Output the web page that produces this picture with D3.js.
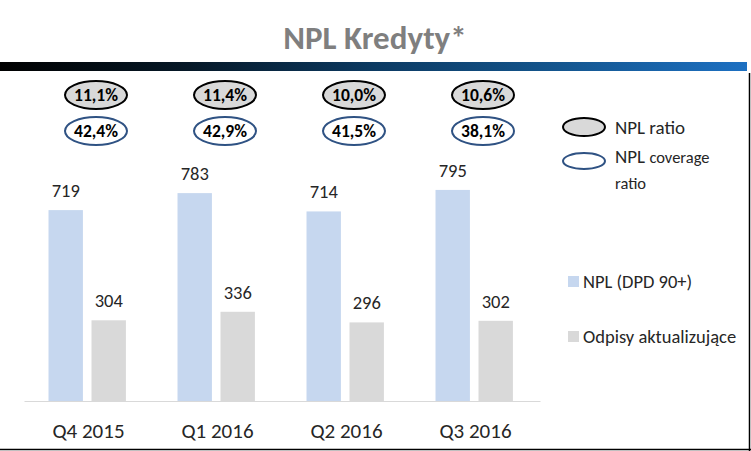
<!DOCTYPE html>
<html>
<head>
<meta charset="utf-8">
<script src="https://cdn.jsdelivr.net/npm/d3@7"></script>
<style>
  html, body { margin: 0; padding: 0; background: #fff; }
  svg { display: block; }
  text { font-family: Carlito, Calibri, "Liberation Sans Narrow", "Open Sans", sans-serif; }
</style>
</head>
<body>
<div id="chart"></div>
<script>
'use strict';

var quarters = ['Q4 2015', 'Q1 2016', 'Q2 2016', 'Q3 2016'];
var nplValues = [719, 783, 714, 795];
var provisionValues = [304, 336, 296, 302];
var nplRatio = ['11,1%', '11,4%', '10,0%', '10,6%'];
var coverageRatio = ['42,4%', '42,9%', '41,5%', '38,1%'];

var seriesNames = ['NPL (DPD 90+)', 'Odpisy aktualizujące'];
var seriesColors = ['#c6d7ef', '#d9d9d9'];

var width = 751, height = 451;
var svg = d3.select('#chart').append('svg')
  .attr('width', width)
  .attr('height', height);

// title + gradient band
svg.append('text')
  .attr('x', 375).attr('y', 49)
  .attr('text-anchor', 'middle')
  .attr('font-size', 33).attr('font-weight', 'bold')
  .attr('fill', '#7f7f7f')
  .text('NPL Kredyty*');

var grad = svg.append('defs').append('linearGradient')
  .attr('id', 'band').attr('x1', '0%').attr('x2', '100%');
[['0%', '#000000'], ['25%', '#061827'], ['50%', '#0c3a62'], ['75%', '#14568f'], ['100%', '#1d70c2']]
  .forEach(function (s) { grad.append('stop').attr('offset', s[0]).attr('stop-color', s[1]); });
svg.append('rect').attr('x', 0).attr('y', 62).attr('width', 747).attr('height', 9)
  .attr('fill', 'url(#band)');

// frame lines (right + bottom)
svg.append('line').attr('x1', 749.5).attr('x2', 749.5).attr('y1', 73).attr('y2', 451)
  .attr('stroke', '#000').attr('stroke-width', 1.5);
svg.append('line').attr('x1', 0).attr('x2', 751).attr('y1', 449.5).attr('y2', 449.5)
  .attr('stroke', '#000').attr('stroke-width', 1.5);

// scales
var x0 = d3.scaleBand().domain(quarters).range([24, 540]).paddingInner(0).paddingOuter(0);
var x1 = d3.scaleBand().domain([0, 1]).range([x0.bandwidth() * 0.19, x0.bandwidth() * 0.79]).paddingInner(0.2);
var y = d3.scaleLinear().domain([0, 900]).range([401, 401 - 0.2655 * 900]);

var g = svg.append('g');
var groups = g.selectAll('g.q')
  .data(quarters.map(function (q, i) { return { q: q, vals: [nplValues[i], provisionValues[i]] }; }))
  .join('g')
  .attr('class', 'q')
  .attr('transform', function (d) { return 'translate(' + x0(d.q) + ',0)'; });

groups.selectAll('rect')
  .data(function (d) { return d.vals; })
  .join('rect')
  .attr('x', function (d, i) { return x1(i); })
  .attr('y', function (d) { return y(d); })
  .attr('width', x1.bandwidth())
  .attr('height', function (d) { return y(0) - y(d); })
  .attr('fill', function (d, i) { return seriesColors[i]; });

groups.selectAll('text.val')
  .data(function (d) { return d.vals; })
  .join('text')
  .attr('class', 'val')
  .attr('x', function (d, i) { return x1(i) + x1.bandwidth() / 2; })
  .attr('y', function (d) { return y(d) - 13; })
  .attr('text-anchor', 'middle')
  .attr('font-size', 18.5)
  .attr('fill', '#262626')
  .text(function (d) { return d; });

// axis
var axis = g.append('g').attr('transform', 'translate(0,' + y(0) + ')')
  .call(d3.axisBottom(x0).tickSize(0).tickPadding(22));
axis.select('.domain').attr('stroke', '#d9d9d9').attr('stroke-width', 1.2);
axis.selectAll('text').attr('font-size', 21).attr('fill', '#262626')
  .attr('font-family', 'Carlito, Calibri, "Liberation Sans Narrow", sans-serif');

// ratio ellipses
function ellipseRow(vals, cy, fill, stroke) {
  var e = g.selectAll(null).data(vals).join('g')
    .attr('transform', function (d, i) { return 'translate(' + (x0(quarters[i]) + 72) + ',' + cy + ')'; });
  e.append('ellipse').attr('rx', 31).attr('ry', 14)
    .attr('fill', fill).attr('stroke', stroke).attr('stroke-width', 2);
  e.append('text').attr('text-anchor', 'middle').attr('dy', '0.35em')
    .attr('font-size', 17.5).attr('font-weight', 'bold').attr('fill', '#000')
    .text(function (d) { return d; });
}
ellipseRow(nplRatio, 95, '#d9d9d9', '#000');
ellipseRow(coverageRatio, 131, '#ffffff', '#2f5283');

// legend: ratios
var leg = svg.append('g');
leg.append('ellipse').attr('cx', 584).attr('cy', 127).attr('rx', 21).attr('ry', 9)
  .attr('fill', '#d9d9d9').attr('stroke', '#000').attr('stroke-width', 2);
leg.append('text').attr('x', 615).attr('y', 134).attr('font-size', 19).attr('fill', '#262626')
  .text('NPL ratio');
leg.append('ellipse').attr('cx', 584).attr('cy', 161).attr('rx', 21).attr('ry', 8)
  .attr('fill', '#fff').attr('stroke', '#2f5283').attr('stroke-width', 2);
var t2 = leg.append('text').attr('x', 615).attr('y', 163).attr('fill', '#262626');
t2.append('tspan').attr('font-size', 19).text('NPL ');
t2.append('tspan').attr('font-size', 16.5).text('coverage');
leg.append('text').attr('x', 615).attr('y', 189).attr('font-size', 16.5).attr('fill', '#262626')
  .text('ratio');

// legend: series
var sl = svg.append('g').selectAll('g').data(seriesNames).join('g')
  .attr('transform', function (d, i) { return 'translate(568,' + (276 + i * 55) + ')'; });
sl.append('rect').attr('width', 11).attr('height', 11)
  .attr('fill', function (d, i) { return seriesColors[i]; });
sl.append('text').attr('x', 15).attr('y', 12).attr('font-size', 18.5).attr('fill', '#262626')
  .text(function (d) { return d; });
</script>
</body>
</html>
